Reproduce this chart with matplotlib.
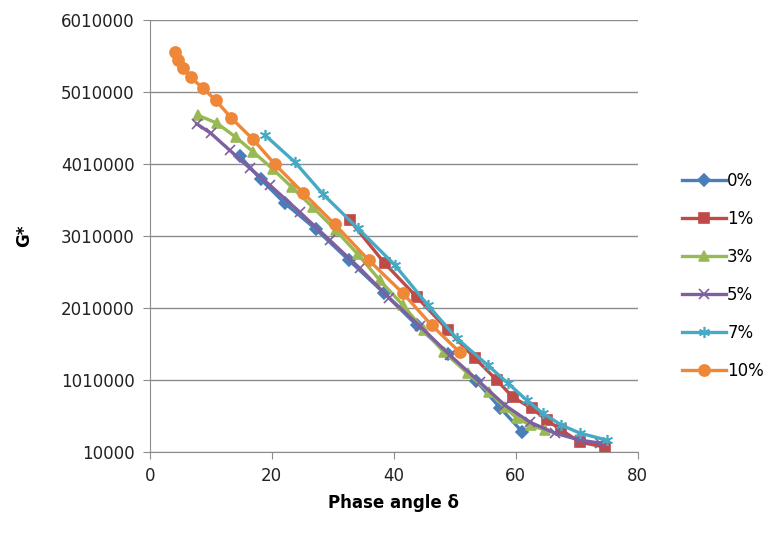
import matplotlib.pyplot as plt

plt.rcParams.update({
    "font.family": ["DejaVu Sans"],
    "font.size": 12,
})

# G* vs phase angle, one series per additive content
x_0 = [14.8, 18.2, 22.1, 27.2, 32.6, 38.4, 43.8, 48.9, 53.5, 57.5, 61.1]
g_0 = [4120000, 3800000, 3470000, 3110000, 2680000, 2220000, 1770000, 1370000, 1000000, 620000, 290000]

x_1 = [32.8, 38.5, 43.8, 48.9, 53.3, 56.9, 59.5, 62.6, 65.1, 67.5, 70.5, 74.6]
g_1 = [3230000, 2635000, 2163000, 1704000, 1316000, 1010000, 774000, 621000, 454000, 316000, 149000, 79000]

x_3 = [7.9, 11.0, 14.1, 17.0, 20.2, 23.3, 26.7, 30.5, 34.1, 37.7, 41.5, 45.0,
       48.2, 52.1, 55.7, 58.2, 60.2, 62.5, 64.8]
g_3 = [4690000, 4580000, 4385000, 4177000, 3940000, 3690000, 3413000, 3093000,
       2760000, 2399000, 2052000, 1700000, 1400000, 1107000, 843000, 635000,
       482000, 380000, 316000]

x_5 = [7.7, 10.0, 13.1, 16.4, 19.7, 24.6, 29.5, 34.4, 39.3, 44.3, 49.2, 54.1,
       58.2, 62.3, 66.4, 70.5, 73.8]
g_5 = [4570000, 4440000, 4204000, 3954000, 3718000, 3343000, 2954000, 2566000,
       2149000, 1760000, 1357000, 982000, 663000, 427000, 274000, 177000, 135000]

x_7 = [18.9, 23.8, 28.4, 34.1, 40.2, 45.6, 50.3, 55.4, 58.7, 61.8, 64.4, 67.5, 70.5, 74.9]
g_7 = [4413000, 4038000, 3593000, 3121000, 2607000, 2052000, 1593000, 1218000,
       968000, 732000, 552000, 385000, 274000, 177000]

x_10 = [4.1, 4.6, 5.4, 6.7, 8.7, 10.8, 13.4, 16.9, 20.5, 25.2, 30.3, 35.9, 41.5, 46.2, 50.8]
g_10 = [5566000, 5454000, 5343000, 5218000, 5066000, 4899000, 4649000, 4357000,
        4010000, 3607000, 3177000, 2677000, 2218000, 1774000, 1399000]

series = [
    ("0%", x_0, g_0, "#4A7EBB", "D", 6),
    ("1%", x_1, g_1, "#BE4B48", "s", 7),
    ("3%", x_3, g_3, "#98B954", "^", 7),
    ("5%", x_5, g_5, "#7D60A0", "x", 7),
    ("7%", x_7, g_7, "#46AAC5", (6, 2, 0), 8),
    ("10%", x_10, g_10, "#EE8838", "o", 8),
]

fig = plt.figure(figsize=(7.72, 5.46), dpi=100)
ax = fig.add_axes([0.194, 0.172, 0.632, 0.791])

for label, xs, gs, color, marker, ms in series:
    ax.plot(xs, gs, color=color, lw=2.4, marker=marker, ms=ms,
            mec=color, mfc=color, mew=1.2, label=label)

ax.set_xlim(0, 80)
ax.set_ylim(10000, 6010000)
ax.set_xticks([0, 20, 40, 60, 80])
ax.set_yticks([10000 + 1000000 * i for i in range(7)])
ax.set_yticklabels([str(10000 + 1000000 * i) for i in range(7)])
ax.yaxis.grid(True, color="#8C8C8C", lw=1)
ax.set_axisbelow(True)
for side in ("top", "right"):
    ax.spines[side].set_visible(False)
for side in ("left", "bottom"):
    ax.spines[side].set_color("#8C8C8C")
ax.tick_params(colors="#8C8C8C", labelcolor="#222222", length=5, pad=6)

ax.set_xlabel("Phase angle δ", fontweight="bold", labelpad=6)
ax.set_ylabel("G*", fontweight="bold", labelpad=20)

fig.legend(loc="center left", bbox_to_anchor=(0.875, 0.494), frameon=False,
           handlelength=2.6, handletextpad=0.1, labelspacing=1.2,
           borderaxespad=0)

fig.savefig("out.png", dpi=100)
